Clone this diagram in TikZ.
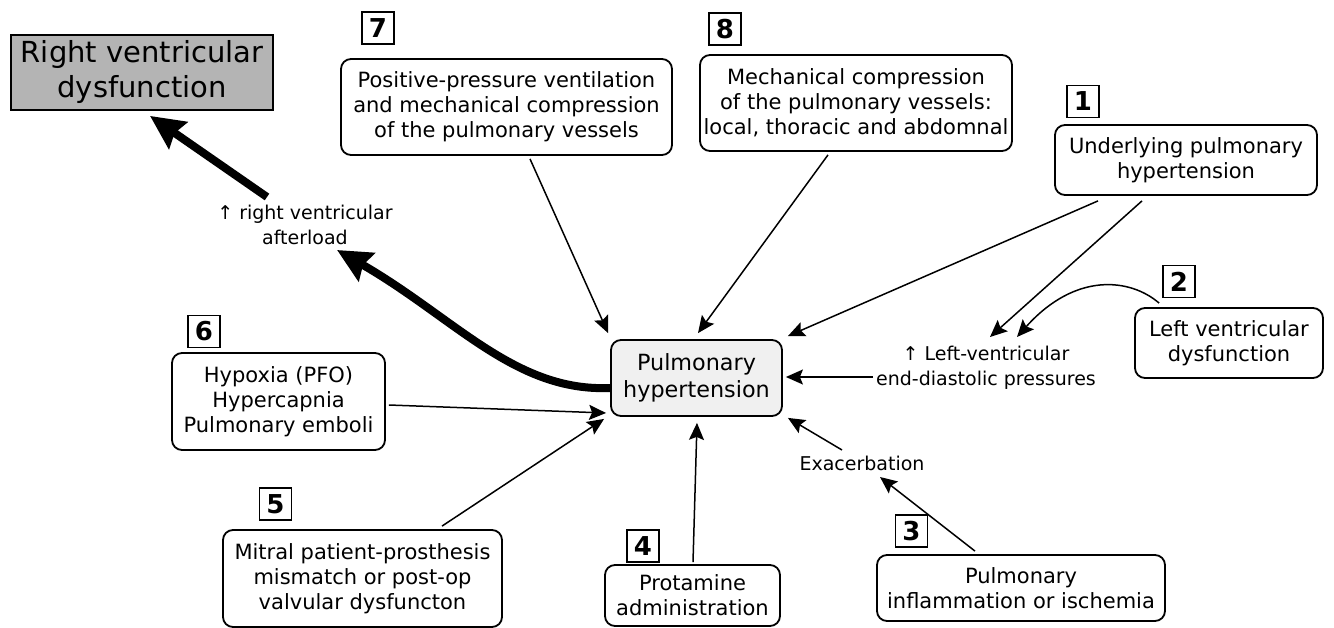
\documentclass[tikz,border=0pt]{standalone}
\usepackage{fontspec}
\setmainfont{DejaVu Sans}
\usetikzlibrary{arrows.meta,calc}
\definecolor{rvgray}{RGB}{180,180,180}
\definecolor{phgray}{RGB}{240,240,240}
\begin{document}
\begin{tikzpicture}[x=1pt,y=-1pt,
  box/.style={draw,line width=1.8pt,rounded corners=10pt,align=center,inner sep=2pt,
    font=\fontsize{21}{25}\selectfont},
  numbox/.style={draw,line width=1.8pt,minimum width=32pt,minimum height=32pt,inner sep=0pt,
    font=\fontsize{26}{26}\selectfont\bfseries},
  lbl/.style={align=center,inner sep=1pt,font=\fontsize{19}{25}\selectfont},
  arr/.style={line width=1.5pt,-{Stealth[length=17pt,width=15pt,inset=3pt]}},
  thick arr/.style={line width=8pt,-{Stealth[length=34pt,width=32pt,inset=4pt]}}
]
\useasboundingbox (0,0) rectangle (1334,628);

% main nodes
\node[draw,line width=1.8pt,fill=rvgray,minimum width=262pt,minimum height=75pt,align=center,
  inner sep=2pt,font=\fontsize{29}{35}\selectfont] (rvd) at (142,72.5) {Right ventricular\\dysfunction};
\node[box,fill=phgray,minimum width=171pt,minimum height=76pt,font=\fontsize{22.3}{27}\selectfont]
  (ph) at (696.5,378) {Pulmonary\\hypertension};

\node[box,minimum width=331pt,minimum height=96pt] (n7) at (506.5,107)
  {Positive-pressure ventilation\\and mechanical compression\\of the pulmonary vessels};
\node[box,minimum width=312pt,minimum height=96pt] (n8) at (856,103)
  {Mechanical compression\\of the pulmonary vessels:\\local, thoracic and abdomnal};
\node[box,minimum width=262pt,minimum height=70pt] (n1) at (1186,160)
  {Underlying pulmonary\\hypertension};
\node[box,minimum width=188pt,minimum height=70pt] (n2) at (1229,343)
  {Left ventricular\\dysfunction};
\node[box,minimum width=213pt,minimum height=97pt] (n6) at (278.5,401.5)
  {Hypoxia (PFO)\\Hypercapnia\\Pulmonary emboli};
\node[box,minimum width=279pt,minimum height=97pt] (n5) at (362.5,578.5)
  {Mitral patient-prosthesis\\mismatch or post-op\\valvular dysfuncton};
\node[box,minimum width=175pt,minimum height=61pt] (n4) at (692.5,595.5)
  {Protamine\\administration};
\node[box,minimum width=288pt,minimum height=66pt] (n3) at (1021,588)
  {Pulmonary\\inflammation or ischemia};

% number boxes
\node[numbox] (k7) at (378,28) {7};
\node[numbox] (k8) at (725,29) {8};
\node[numbox] (k1) at (1083,101.5) {1};
\node[numbox] (k2) at (1179,281.5) {2};
\node[numbox] (k6) at (204,331.5) {6};
\node[numbox] (k5) at (275.5,504) {5};
\node[numbox] (k4) at (643,546) {4};
\node[numbox] (k3) at (911.5,531) {3};

% labels
\node[lbl] (al) at (305,225) {↑ right ventricular\\afterload};
\node[lbl] (lv) at (986,368) {↑ Left-ventricular\\end-diastolic pressures};
\node[lbl] (ex) at (862,463) {Exacerbation};

% connectors
\draw[arr] ($(n7.south)+(23.5,3)$) -- ($(ph.north west)+(-2,-6)$);
\draw[arr] ($(n8.south)+(-28,3)$) -- ($(ph.north)+(1.5,-6)$);
\draw[arr] ($(n1.south)+(-88,5)$) -- ($(ph.north east)+(5,-3)$);
\draw[arr] ($(n1.south)+(-44,5)$) -- ($(lv)+(4,-31)$);
\draw[arr] ($(n2.north west)+(25,-4)$) .. controls (1130,278) and (1075,272) .. ($(lv)+(31,-31)$);
\draw[arr] ($(lv)+(-113,9)$) -- ($(ph.east)+(3,-1)$);
\draw[arr] ($(ex)+(-20,-13)$) -- ($(ph.south east)+(5,1)$);
\draw[arr] ($(n3.north)+(-46,-3)$) -- ($(ex)+(18,14)$);
\draw[arr] ($(n4.north)+(0.5,-2)$) -- ($(ph.south)+(0.5,6)$);
\draw[arr] ($(n6.east)+(3,3.5)$) -- ($(ph.west)+(-4,35)$);
\draw[arr] ($(n5.north)+(79.5,-3)$) -- ($(ph.south west)+(-6,2)$);

\draw[thick arr] ($(ph.west)+(0,10)$) .. controls (515,392) and (455,318) .. ($(al)+(32,25)$);
\draw[thick arr] ($(al)+(-38,-28)$) -- ($(rvd.south)+(8,5)$);
\end{tikzpicture}
\end{document}
